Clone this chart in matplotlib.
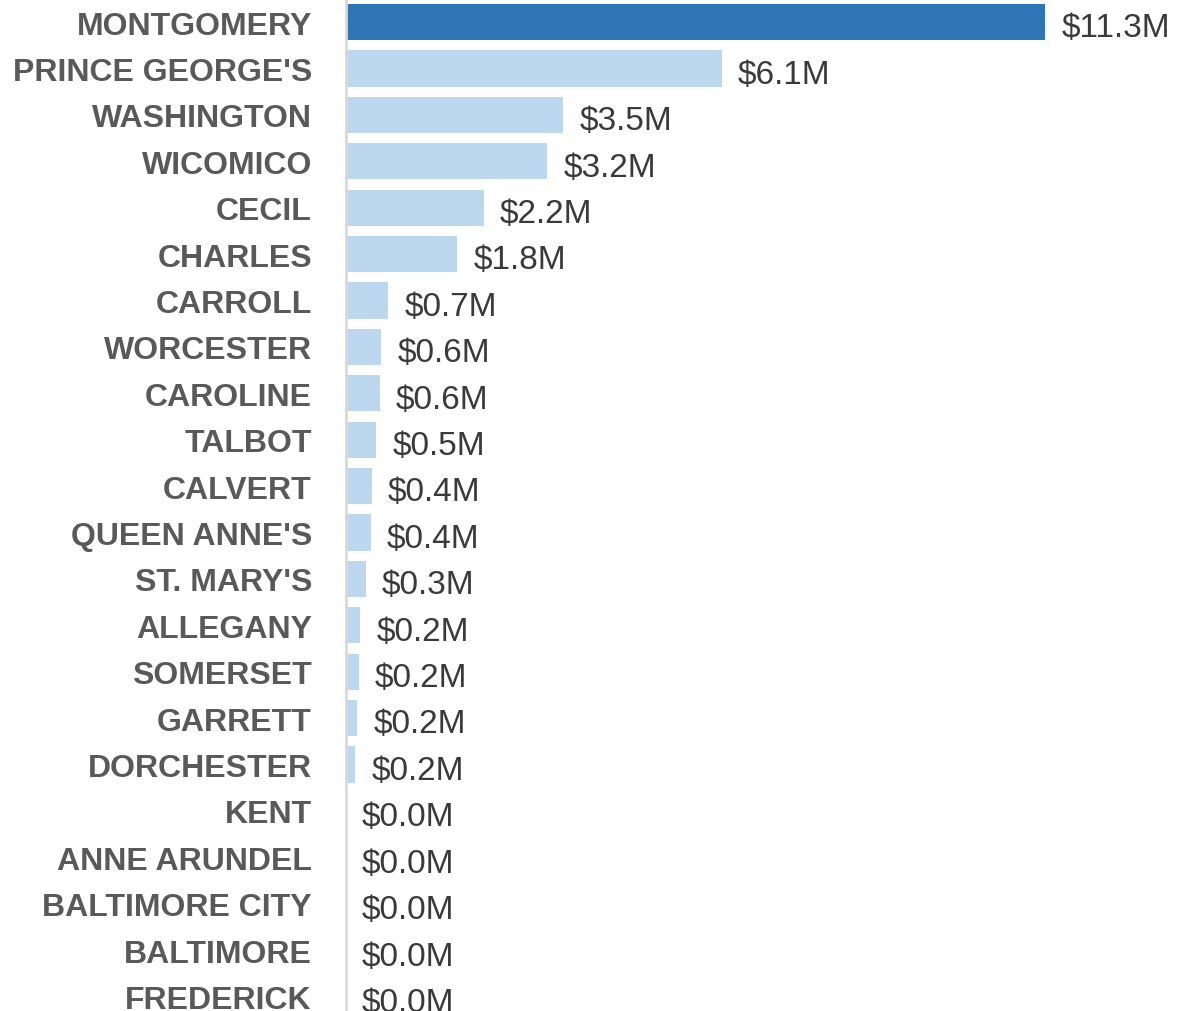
import matplotlib.pyplot as plt

counties = ["MONTGOMERY", "PRINCE GEORGE'S", "WASHINGTON", "WICOMICO", "CECIL", "CHARLES",
            "CARROLL", "WORCESTER", "CAROLINE", "TALBOT", "CALVERT", "QUEEN ANNE'S",
            "ST. MARY'S", "ALLEGANY", "SOMERSET", "GARRETT", "DORCHESTER", "KENT",
            "ANNE ARUNDEL", "BALTIMORE CITY", "BALTIMORE", "FREDERICK"]
values = [11.3, 6.07, 3.51, 3.25, 2.23, 1.80, 0.68, 0.57, 0.55, 0.49, 0.42, 0.40,
          0.32, 0.23, 0.21, 0.18, 0.15, 0.0, 0.0, 0.0, 0.0, 0.0]
labels = ["$11.3M", "$6.1M", "$3.5M", "$3.2M", "$2.2M", "$1.8M", "$0.7M", "$0.6M",
          "$0.6M", "$0.5M", "$0.4M", "$0.4M", "$0.3M", "$0.2M", "$0.2M", "$0.2M",
          "$0.2M", "$0.0M", "$0.0M", "$0.0M", "$0.0M", "$0.0M"]

plt.rcParams["font.family"] = ["Liberation Sans", "DejaVu Sans"]

fig = plt.figure(figsize=(11.89, 10.12), dpi=100)
ax = fig.add_axes([346 / 1189, 0, 1 - 346 / 1189, 1])

ys = list(range(len(counties)))
colors = ["#2e75b6"] + ["#bdd7ee"] * (len(counties) - 1)
ax.barh(ys, values, height=0.78, color=colors, left=0)

for y, v, lab in zip(ys, values, labels):
    ax.text(v + 0.26, y + 0.05, lab, va="center_baseline", ha="left", fontsize=24, color="#3a3a3a")

ax.set_xlim(0, 13.62)
ax.set_ylim(21.31, -0.496)
ax.set_yticks(ys, labels=counties)
ax.tick_params(axis="y", length=0, pad=24.5, labelsize=23, labelcolor="#595959")
for t in ax.get_yticklabels():
    t.set_fontweight("bold")
    t.set_verticalalignment("center_baseline")
ax.set_xticks([])
for s in ["top", "right", "bottom"]:
    ax.spines[s].set_visible(False)
ax.spines["left"].set_color("#d9d9d9")
ax.spines["left"].set_linewidth(2)

fig.savefig("out.png", dpi=100)
